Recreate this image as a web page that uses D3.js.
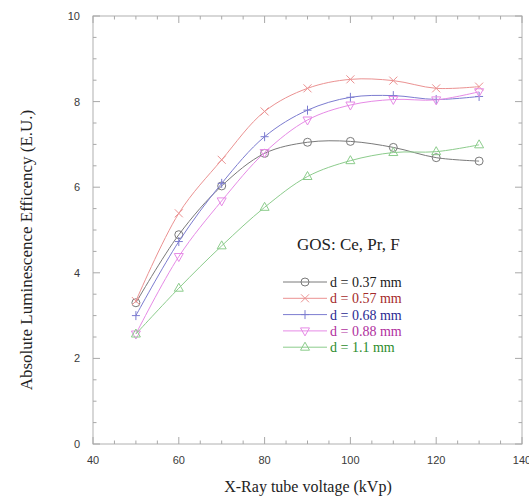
<!DOCTYPE html>
<html>
<head>
<meta charset="utf-8">
<script src="https://cdn.jsdelivr.net/npm/d3@7"></script>
<style>
  html, body { margin: 0; padding: 0; background: #fff; }
  svg { display: block; }
</style>
</head>
<body>
<svg id="chart" width="529" height="497"></svg>
<script>
// ---- data ----
const voltages = [50, 60, 70, 80, 90, 100, 110, 120, 130];
const seriesNames = ["d = 0.37 mm", "d = 0.57 mm", "d = 0.68 mm", "d = 0.88 mm", "d = 1.1 mm"];
const d037 = [3.30, 4.89, 6.03, 6.79, 7.05, 7.07, 6.93, 6.69, 6.61];
const d057 = [3.34, 5.39, 6.64, 7.77, 8.31, 8.52, 8.49, 8.31, 8.35];
const d068 = [3.00, 4.73, 6.09, 7.18, 7.80, 8.10, 8.14, 8.05, 8.12];
const d088 = [2.57, 4.38, 5.68, 6.81, 7.57, 7.92, 8.05, 8.04, 8.23];
const d110 = [2.57, 3.64, 4.63, 5.53, 6.25, 6.62, 6.81, 6.83, 6.99];
const xTicks = [40, 60, 80, 100, 120, 140];
const yTicks = [0, 2, 4, 6, 8, 10];
const legendTitle = "GOS: Ce, Pr, F";
const xLabel = "X-Ray tube voltage (kVp)";
const yLabel = "Absolute Luminescence Efficency (E.U.)";

const seriesValues = [d037, d057, d068, d088, d110];
const lineColors = ["#7a7a7a", "#eb9292", "#7c7cd0", "#e68ae6", "#8ccc8c"];
const textColors = ["#1a1a1a", "#a52a2a", "#2a2a92", "#b0309e", "#2c8c2c"];
const markers = ["circle", "cross", "plus", "tridown", "triup"];

const svg = d3.select("#chart");
const L = 93, R = 522, T = 16, B = 444;
const x = d3.scaleLinear().domain([40, 140]).range([L, R]);
const y = d3.scaleLinear().domain([0, 10]).range([B, T]);

// frame
svg.append("rect").attr("x", L).attr("y", T).attr("width", R - L).attr("height", B - T)
  .attr("fill", "none").attr("stroke", "#b0b0b0").attr("stroke-width", 1);

const tickCol = "#a8a8a8";
const xMinor = d3.range(40, 141, 5);
const yMinor = d3.range(0, 10.01, 0.5);
xMinor.forEach(v => {
  const major = v % 20 === 0;
  const len = major ? 7 : 3.5;
  const px = x(v);
  svg.append("line").attr("x1", px).attr("x2", px).attr("y1", B).attr("y2", B - len).attr("stroke", tickCol);
  svg.append("line").attr("x1", px).attr("x2", px).attr("y1", T).attr("y2", T + len).attr("stroke", tickCol);
});
yMinor.forEach(v => {
  const major = Math.abs(v % 2) < 1e-6;
  const len = major ? 7 : 3.5;
  const py = y(v);
  svg.append("line").attr("x1", L).attr("x2", L + len).attr("y1", py).attr("y2", py).attr("stroke", tickCol);
  svg.append("line").attr("x1", R).attr("x2", R - len).attr("y1", py).attr("y2", py).attr("stroke", tickCol);
});

// tick labels
svg.append("g").selectAll("text").data(xTicks).join("text")
  .attr("x", d => x(d)).attr("y", 464).attr("text-anchor", "middle")
  .attr("font-family", "Liberation Sans, Arial, sans-serif").attr("font-size", 11)
  .attr("fill", "#3a3a3a").text(d => d);
svg.append("g").selectAll("text").data(yTicks).join("text")
  .attr("x", 80).attr("y", d => y(d) + 4).attr("text-anchor", "end")
  .attr("font-family", "Liberation Sans, Arial, sans-serif").attr("font-size", 11)
  .attr("fill", "#3a3a3a").text(d => d);

// axis titles
svg.append("text").attr("x", 308).attr("y", 492).attr("text-anchor", "middle")
  .attr("font-family", "Liberation Serif, Times New Roman, serif").attr("font-size", 16)
  .attr("fill", "#222").text(xLabel);
svg.append("text").attr("transform", "translate(32,250) rotate(-90)").attr("text-anchor", "middle")
  .attr("font-family", "Liberation Serif, Times New Roman, serif").attr("font-size", 17)
  .attr("fill", "#222").text(yLabel);

function drawMarker(g, type, cx, cy, color) {
  const s = 4;
  if (type === "circle") {
    g.append("circle").attr("cx", cx).attr("cy", cy).attr("r", s).attr("fill", "none").attr("stroke", color);
  } else if (type === "cross") {
    g.append("path").attr("d", `M${cx-s},${cy-s}L${cx+s},${cy+s}M${cx-s},${cy+s}L${cx+s},${cy-s}`)
      .attr("stroke", color).attr("fill", "none");
  } else if (type === "plus") {
    g.append("path").attr("d", `M${cx-s},${cy}L${cx+s},${cy}M${cx},${cy-s-0.5}L${cx},${cy+s+0.5}`)
      .attr("stroke", color).attr("fill", "none");
  } else if (type === "tridown") {
    g.append("path").attr("d", `M${cx-s-0.5},${cy-s+1}L${cx+s+0.5},${cy-s+1}L${cx},${cy+s+1}Z`)
      .attr("stroke", color).attr("fill", "none");
  } else if (type === "triup") {
    g.append("path").attr("d", `M${cx-s-0.5},${cy+s-1}L${cx+s+0.5},${cy+s-1}L${cx},${cy-s-1}Z`)
      .attr("stroke", color).attr("fill", "none");
  }
}

const line = d3.line().x((d, i) => x(voltages[i])).y(d => y(d)).curve(d3.curveCatmullRom.alpha(0.5));

seriesValues.forEach((vals, k) => {
  const g = svg.append("g");
  g.append("path").attr("d", line(vals)).attr("fill", "none")
    .attr("stroke", lineColors[k]).attr("stroke-width", 1);
  vals.forEach((v, i) => drawMarker(g, markers[k], x(voltages[i]), y(v), lineColors[k]));
});

// legend
svg.append("text").attr("x", 297).attr("y", 250)
  .attr("font-family", "Liberation Serif, Times New Roman, serif").attr("font-size", 17)
  .attr("fill", "#222").text(legendTitle);
seriesNames.forEach((name, k) => {
  const ly = 282 + k * 16.3;
  const g = svg.append("g");
  g.append("line").attr("x1", 283).attr("x2", 327).attr("y1", ly).attr("y2", ly)
    .attr("stroke", lineColors[k]);
  drawMarker(g, markers[k], 305, ly, lineColors[k]);
  g.append("text").attr("x", 330).attr("y", ly + 5)
    .attr("font-family", "Liberation Serif, Times New Roman, serif").attr("font-size", 14)
    .attr("fill", textColors[k]).text(name);
});
</script>
</body>
</html>
